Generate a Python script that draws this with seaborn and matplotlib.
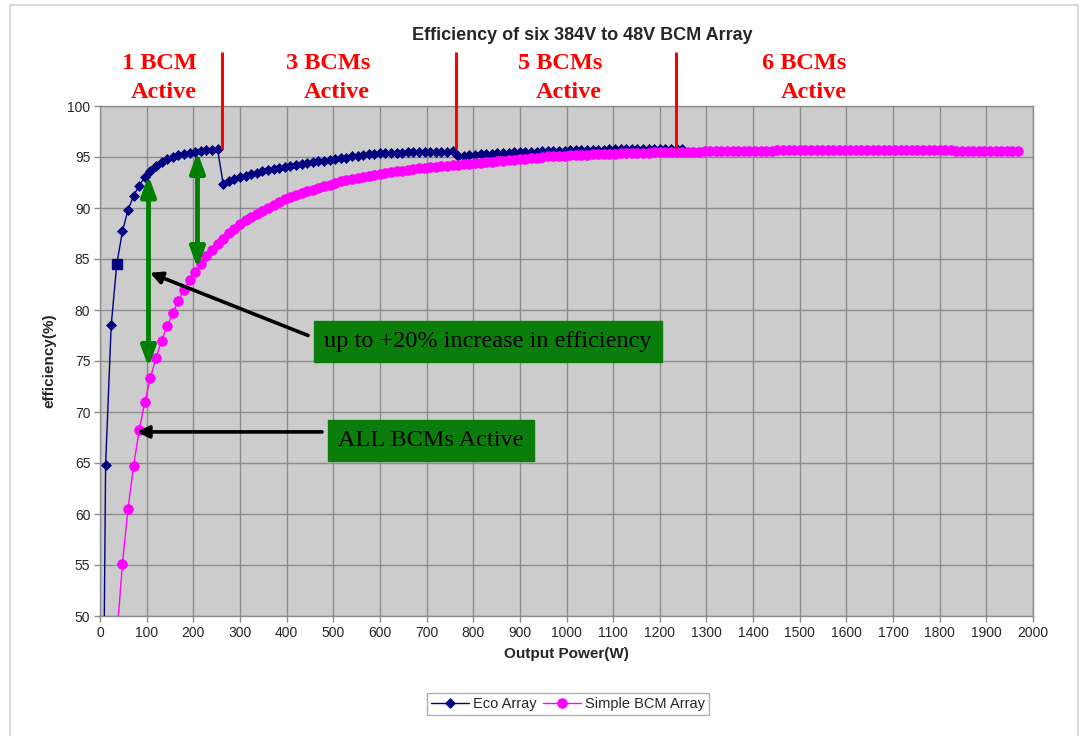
"""Efficiency of six 384V to 48V BCM array: Eco (staged) array vs simple array."""

import matplotlib.pyplot as plt
import pandas as pd
import seaborn as sns
from matplotlib.patches import Rectangle

# Output power samples (W), one every 12 W.
POWER_W = [
    0, 12, 24, 36, 48, 60, 72, 84, 96, 108, 120, 132,
    144, 156, 168, 180, 192, 204, 216, 228, 240, 252, 264, 276,
    288, 300, 312, 324, 336, 348, 360, 372, 384, 396, 408, 420,
    432, 444, 456, 468, 480, 492, 504, 516, 528, 540, 552, 564,
    576, 588, 600, 612, 624, 636, 648, 660, 672, 684, 696, 708,
    720, 732, 744, 756, 768, 780, 792, 804, 816, 828, 840, 852,
    864, 876, 888, 900, 912, 924, 936, 948, 960, 972, 984, 996,
    1008, 1020, 1032, 1044, 1056, 1068, 1080, 1092, 1104, 1116, 1128, 1140,
    1152, 1164, 1176, 1188, 1200, 1212, 1224, 1236, 1248, 1260, 1272, 1284,
    1296, 1308, 1320, 1332, 1344, 1356, 1368, 1380, 1392, 1404, 1416, 1428,
    1440, 1452, 1464, 1476, 1488, 1500, 1512, 1524, 1536, 1548, 1560, 1572,
    1584, 1596, 1608, 1620, 1632, 1644, 1656, 1668, 1680, 1692, 1704, 1716,
    1728, 1740, 1752, 1764, 1776, 1788, 1800, 1812, 1824, 1836, 1848, 1860,
    1872, 1884, 1896, 1908, 1920, 1932, 1944, 1956, 1968,
]

# Eco array efficiency (%): 1 BCM up to 252 W, 3 BCMs to 756 W, 5 BCMs after.
ECO_EFF = [
    0.0, 64.8, 78.5, 84.5, 87.7, 89.8, 91.2, 92.2, 93.0, 93.6, 94.1, 94.5,
    94.8, 95.0, 95.15, 95.3, 95.4, 95.5, 95.6, 95.65, 95.7, 95.75, 92.4, 92.6,
    92.8, 93.0, 93.15, 93.3, 93.45, 93.6, 93.7, 93.8, 93.9, 94.0, 94.1, 94.2,
    94.3, 94.4, 94.5, 94.6, 94.65, 94.75, 94.8, 94.9, 94.95, 95.05, 95.1, 95.15,
    95.25, 95.3, 95.35, 95.35, 95.4, 95.4, 95.4, 95.45, 95.45, 95.45, 95.5, 95.5,
    95.5, 95.5, 95.5, 95.55, 95.05, 95.1, 95.15, 95.2, 95.25, 95.3, 95.3, 95.35,
    95.4, 95.4, 95.45, 95.45, 95.5, 95.5, 95.5, 95.55, 95.55, 95.6, 95.6, 95.6,
    95.65, 95.65, 95.65, 95.7, 95.7, 95.7, 95.7, 95.75, 95.75, 95.75, 95.75, 95.75,
    95.8, 95.8, 95.8, 95.8, 95.8, 95.8, 95.8, 95.8, 95.8,
]

# Simple array efficiency (%): all six BCMs always active.
SIMPLE_EFF = [
    0.0, 23.4, 38.0, 47.9, 55.1, 60.5, 64.7, 68.2, 71.0, 73.3, 75.3, 77.0,
    78.4, 79.7, 80.9, 82.0, 82.9, 83.7, 84.5, 85.3, 85.9, 86.5, 87.0, 87.5,
    87.9, 88.4, 88.8, 89.1, 89.4, 89.7, 90.0, 90.3, 90.6, 90.85, 91.05, 91.25,
    91.45, 91.65, 91.8, 92.0, 92.15, 92.3, 92.45, 92.6, 92.7, 92.85, 92.95, 93.05,
    93.15, 93.25, 93.35, 93.45, 93.5, 93.6, 93.65, 93.75, 93.8, 93.9, 93.95, 94.0,
    94.05, 94.1, 94.15, 94.2, 94.25, 94.3, 94.35, 94.4, 94.45, 94.5, 94.55, 94.6,
    94.65, 94.7, 94.75, 94.8, 94.85, 94.9, 94.95, 95.0, 95.05, 95.05, 95.1, 95.1,
    95.15, 95.15, 95.2, 95.2, 95.25, 95.25, 95.3, 95.3, 95.3, 95.35, 95.35, 95.35,
    95.4, 95.4, 95.4, 95.45, 95.45, 95.45, 95.45, 95.5, 95.5, 95.5, 95.5, 95.5,
    95.55, 95.55, 95.55, 95.55, 95.55, 95.6, 95.6, 95.6, 95.6, 95.6, 95.6, 95.6,
    95.6, 95.65, 95.65, 95.65, 95.65, 95.65, 95.65, 95.65, 95.65, 95.65, 95.65, 95.65,
    95.65, 95.65, 95.65, 95.65, 95.65, 95.65, 95.65, 95.65, 95.65, 95.65, 95.65, 95.65,
    95.65, 95.65, 95.65, 95.65, 95.65, 95.65, 95.65, 95.65, 95.65, 95.6, 95.6, 95.6,
    95.6, 95.6, 95.6, 95.6, 95.6, 95.6, 95.6, 95.6, 95.6,
]

ECO_HIGHLIGHT = 3  # point drawn as a square in the original

# Staging labels: (text, right edge in W) and switch-over lines (W)
STAGE_LABELS = [("1 BCM\nActive", 208), ("3 BCMs\nActive", 579),
                ("5 BCMs\nActive", 1076), ("6 BCMs\nActive", 1601)]
STAGE_LINES = [262, 763, 1235]

NAVY = "#000080"
MAGENTA = "#FF00FF"
GREEN = "#008000"
RED = "#FF0000"
SANS = ["Liberation Sans", "DejaVu Sans"]
SERIF = ["Liberation Serif", "DejaVu Serif"]


def main():
    sns.set_theme(style="whitegrid", rc={
        "axes.facecolor": "#CCCCCC",
        "axes.edgecolor": "#8C8C8C",
        "grid.color": "#8C8C8C",
        "grid.linewidth": 1.0,
        "xtick.bottom": True,
        "ytick.left": True,
    })
    plt.rcParams["font.family"] = SANS

    eco = pd.DataFrame({"power": POWER_W[:len(ECO_EFF)], "eff": ECO_EFF})
    simple = pd.DataFrame({"power": POWER_W[:len(SIMPLE_EFF)], "eff": SIMPLE_EFF})

    fig = plt.figure(figsize=(10.86, 7.36), dpi=100)
    ax = fig.add_axes([100 / 1086, 1 - 616 / 736, 933 / 1086, 510 / 736])

    sns.lineplot(data=eco, x="power", y="eff", sort=False, color=NAVY,
                 linewidth=1.0, marker="D", markersize=5.5, markeredgecolor=NAVY,
                 markeredgewidth=0.5, label="Eco Array", ax=ax, zorder=3)
    ax.plot(eco["power"][ECO_HIGHLIGHT], eco["eff"][ECO_HIGHLIGHT], marker="s",
            markersize=7, color=NAVY, zorder=3)
    sns.lineplot(data=simple, x="power", y="eff", sort=False, color=MAGENTA,
                 linewidth=1.0, marker="o", markersize=7, markeredgecolor=MAGENTA,
                 markeredgewidth=0.5, label="Simple BCM Array", ax=ax, zorder=4)

    ax.set_xlim(0, 2000)
    ax.set_ylim(50, 100)
    ax.set_xticks(range(0, 2001, 100))
    ax.set_yticks(range(50, 101, 5))
    ax.tick_params(axis="both", direction="out", length=4, width=1,
                   color="#8C8C8C", labelsize=10, pad=3)
    for side in ax.spines.values():
        side.set_linewidth(1.0)
    ax.set_xlabel("Output Power(W)", fontsize=11, fontweight="bold", labelpad=5)
    ax.set_ylabel("efficiency(%)", fontsize=11, fontweight="bold", labelpad=8)

    fig.text(582 / 1086, 1 - 35 / 736, "Efficiency of six 384V to 48V BCM Array",
             ha="center", va="center", fontsize=13, fontweight="bold")

    # red staging lines and labels above the plot
    xt = ax.get_xaxis_transform()
    for x in STAGE_LINES:
        ax.plot([x, x], [0.916, 1.106], transform=xt, color=RED, lw=2.2,
                clip_on=False, zorder=6, solid_capstyle="butt")
    for text, x in STAGE_LABELS:
        ax.text(x, 1.055, text, transform=xt, ha="right", va="center",
                multialignment="right", color=RED, fontsize=17.5,
                fontweight="bold", family=SERIF, linespacing=1.5)

    # green double arrows showing the efficiency gain
    for x, top, bottom in [(104, 93.2, 74.4), (209, 95.5, 84.1)]:
        ax.annotate("", xy=(x, bottom), xytext=(x, top),
                    arrowprops=dict(arrowstyle="<|-|>,head_width=0.22,head_length=0.6",
                                    color=GREEN, lw=3.5, mutation_scale=20,
                                    shrinkA=0, shrinkB=0),
                    zorder=7)

    # black pointers from the callout boxes
    for head, tail in [((107, 83.65), (446, 77.5)), ((79, 68.05), (476, 68.05))]:
        ax.annotate("", xy=head, xytext=tail,
                    arrowprops=dict(arrowstyle="-|>", color="black", lw=2.6,
                                    mutation_scale=18, shrinkA=0, shrinkB=0),
                    zorder=7)

    box = dict(boxstyle="square,pad=0.42", fc="#0A7D0A", ec="#0A7D0A")
    ax.text(832, 76.9, "up to +20% increase in efficiency", ha="center",
            va="center", fontsize=17.5, family=SERIF, color="black", bbox=box,
            zorder=8)
    ax.text(709, 67.2, "ALL BCMs Active", ha="center", va="center",
            fontsize=17.5, family=SERIF, color="black", bbox=box, zorder=8)

    handles, labels = ax.get_legend_handles_labels()
    ax.get_legend().remove()
    fig.legend(handles, labels, loc="center",
               bbox_to_anchor=(568 / 1086, 1 - 704 / 736), ncol=2,
               frameon=True, fancybox=False, edgecolor="#B0B0B0",
               facecolor="white", framealpha=1.0,
               fontsize=10.5, handlelength=2.6, columnspacing=0.4,
               handletextpad=0.3, borderpad=0.3)

    # thin outer chart border
    fig.patches.append(Rectangle((10 / 1086, -0.02), 1068 / 1086, 1 - 5 / 736 + 0.02,
                                 transform=fig.transFigure, fill=False,
                                 ec="#C8D7DE", lw=1.2))

    fig.savefig("out.png", dpi=100)


if __name__ == "__main__":
    main()
